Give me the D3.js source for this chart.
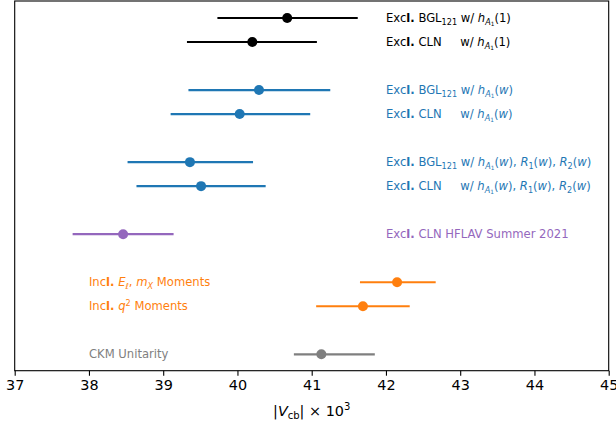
<!DOCTYPE html>
<html lang="en">
<head>
	<meta charset="UTF-8" />
	<script src="https://d3js.org/d3.v7.min.js"></script>
	<title>Vcb comparison</title>
	<style>
		body { margin: 0; background: #fff; }
		text { font-family: "DejaVu Sans", sans-serif; }
	</style>
</head>
<body>
	<script>
		var w = 616;
		var h = 430;

		// rows from top to bottom, "" marks an empty slot
		var rows = ["bgl1", "cln1", "", "bglw", "clnw", "", "bglr", "clnr", "", "hflav", "", "incE", "incQ", "", "ckm"];

		var ids = ["bgl1", "cln1", "bglw", "clnw", "bglr", "clnr", "hflav", "incE", "incQ", "ckm"];
		var groups = ["excl1", "excl1", "exclw", "exclw", "exclw", "exclw", "hflav", "incl", "incl", "ckm"];
		var centers = [40.67, 40.20, 40.29, 40.03, 39.36, 39.51, 38.46, 42.15, 41.69, 41.13];
		var lows = [39.73, 39.32, 39.34, 39.10, 38.52, 38.64, 37.78, 41.65, 41.06, 40.76];
		var highs = [41.62, 41.07, 41.25, 40.98, 40.21, 40.38, 39.14, 42.67, 42.32, 41.85];

		var xTicks = [37, 38, 39, 40, 41, 42, 43, 44, 45];

		// label pieces: t text, i italic, k size factor, o baseline offset (em), w jump to the "w/" column
		var hA = [{ t: "h", i: 1 }, { t: "A", i: 1, k: 0.7, o: 0.22 }, { t: "1", k: 0.5, o: 0.36 }];
		var labels = [
			[{ t: "Exc" }, { t: "l.", b: 1 }, { t: " BGL" }, { t: "121", k: 0.7, o: 0.22 }, { t: " w/ " }].concat(hA, [{ t: "(1)" }]),
			[{ t: "Exc" }, { t: "l.", b: 1 }, { t: " CLN" }, { t: "w/ ", w: 1 }].concat(hA, [{ t: "(1)" }]),
			[{ t: "Exc" }, { t: "l.", b: 1 }, { t: " BGL" }, { t: "121", k: 0.7, o: 0.22 }, { t: " w/ " }].concat(hA, [{ t: "(" }, { t: "w", i: 1 }, { t: ")" }]),
			[{ t: "Exc" }, { t: "l.", b: 1 }, { t: " CLN" }, { t: "w/ ", w: 1 }].concat(hA, [{ t: "(" }, { t: "w", i: 1 }, { t: ")" }]),
			[{ t: "Exc" }, { t: "l.", b: 1 }, { t: " BGL" }, { t: "121", k: 0.7, o: 0.22 }, { t: " w/ " }].concat(hA, [{ t: "(" }, { t: "w", i: 1 }, { t: "), " },
				{ t: "R", i: 1 }, { t: "1", k: 0.7, o: 0.22 }, { t: "(" }, { t: "w", i: 1 }, { t: "), " }, { t: "R", i: 1 }, { t: "2", k: 0.7, o: 0.22 }, { t: "(" }, { t: "w", i: 1 }, { t: ")" }]),
			[{ t: "Exc" }, { t: "l.", b: 1 }, { t: " CLN" }, { t: "w/ ", w: 1 }].concat(hA, [{ t: "(" }, { t: "w", i: 1 }, { t: "), " },
				{ t: "R", i: 1 }, { t: "1", k: 0.7, o: 0.22 }, { t: "(" }, { t: "w", i: 1 }, { t: "), " }, { t: "R", i: 1 }, { t: "2", k: 0.7, o: 0.22 }, { t: "(" }, { t: "w", i: 1 }, { t: ")" }]),
			[{ t: "Exc" }, { t: "l.", b: 1 }, { t: " CLN HFLAV Summer 2021" }],
			[{ t: "Inc" }, { t: "l.", b: 1 }, { t: " " }, { t: "E", i: 1 }, { t: "ℓ", i: 1, k: 0.7, o: 0.22 }, { t: ", " }, { t: "m", i: 1 }, { t: "X", i: 1, k: 0.7, o: 0.22 }, { t: " Moments" }],
			[{ t: "Inc" }, { t: "l.", b: 1 }, { t: " " }, { t: "q", i: 1 }, { t: "2", k: 0.7, o: -0.4 }, { t: " Moments" }],
			[{ t: "CKM Unitarity" }]
		];

		var colors = { excl1: "#000000", exclw: "#1f77b4", hflav: "#9467bd", incl: "#ff7f0e", ckm: "#7f7f7f" };
		var labelAt = { excl1: 42, exclw: 42, hflav: 42, incl: 38, ckm: 38 };
		var wColumn = 43.0;

		var margin = { top: 1, right: 7.3, bottom: 59.3, left: 14.7 };
		var iw = w - margin.left - margin.right;
		var ih = h - margin.top - margin.bottom;

		var svg = d3.select("body")
			.append("svg")
			.attr("width", w)
			.attr("height", h);

		var g = svg.append("g")
			.attr("transform", "translate(" + margin.left + "," + margin.top + ")");

		var x = d3.scaleLinear()
			.domain([37, 45])
			.range([0, iw]);

		var y = d3.scalePoint()
			.domain(rows.map(function (r, i) { return i; }))
			.range([17, ih - 16.4]);

		function rowY(id) {
			return y(rows.indexOf(id));
		}

		// error bars
		g.selectAll("line.err")
			.data(ids)
			.enter()
			.append("line")
			.attr("class", "err")
			.attr("x1", function (d, i) { return x(lows[i]); })
			.attr("x2", function (d, i) { return x(highs[i]); })
			.attr("y1", function (d) { return rowY(d); })
			.attr("y2", function (d) { return rowY(d); })
			.attr("stroke", function (d, i) { return colors[groups[i]]; })
			.attr("stroke-width", 2.2);

		g.selectAll("circle.pt")
			.data(ids)
			.enter()
			.append("circle")
			.attr("class", "pt")
			.attr("cx", function (d, i) { return x(centers[i]); })
			.attr("cy", function (d) { return rowY(d); })
			.attr("r", 5)
			.attr("fill", function (d, i) { return colors[groups[i]]; });

		// labels
		var fs = 11.6;
		ids.forEach(function (id, i) {
			var t = g.append("text")
				.attr("x", x(labelAt[groups[i]]))
				.attr("y", rowY(id) + 4.1)
				.attr("fill", colors[groups[i]])
				.attr("font-size", fs);
			var cur = 0;
			labels[i].forEach(function (s) {
				var off = (s.o || 0) * fs;
				var sp = t.append("tspan")
					.attr("dy", (off - cur).toFixed(2))
					.attr("font-size", ((s.k || 1) * fs).toFixed(2))
					.text(s.t);
				if (s.i) sp.attr("font-style", "italic");
				if (s.b) sp.attr("font-weight", "bold");
				if (s.w) sp.attr("x", x(wColumn));
				cur = off;
			});
		});

		// frame
		g.append("rect")
			.attr("width", iw)
			.attr("height", ih)
			.attr("fill", "none")
			.attr("stroke", "#000")
			.attr("stroke-width", 1.1);

		var xAxis = g.append("g")
			.attr("transform", "translate(0," + ih + ")")
			.call(d3.axisBottom(x).tickValues(xTicks).tickSize(5).tickPadding(4).tickFormat(d3.format("d")));
		xAxis.select(".domain").remove();
		xAxis.selectAll("line").attr("stroke-width", 1.1);
		xAxis.selectAll("text")
			.attr("font-size", 14.4)
			.attr("font-family", "DejaVu Sans")
			.attr("fill", "#000");

		var xl = svg.append("text")
			.attr("x", margin.left + iw / 2)
			.attr("y", 416)
			.attr("text-anchor", "middle")
			.attr("font-size", 14.4)
			.attr("fill", "#000");
		xl.append("tspan").text("|");
		xl.append("tspan").attr("font-style", "italic").text("V");
		xl.append("tspan").attr("font-size", 10).attr("dy", 3).text("cb");
		xl.append("tspan").attr("dy", -3).text("| × 10");
		xl.append("tspan").attr("font-size", 10).attr("dy", -6).text("3");
	</script>
</body>
</html>
